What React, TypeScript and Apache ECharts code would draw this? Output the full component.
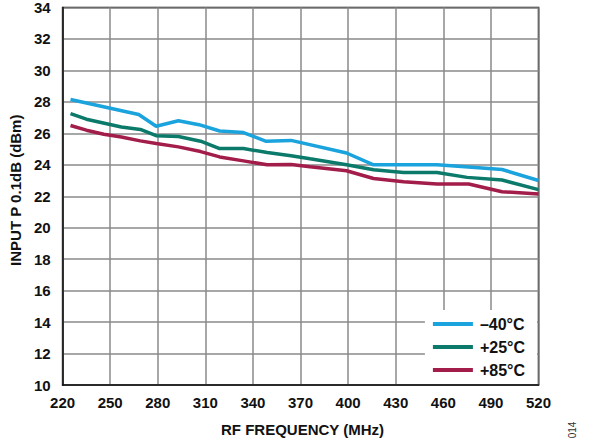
import React, { useEffect, useRef } from "react";
import * as echarts from "echarts";

const seriesNames = ["\u201340\u00B0C", "+25\u00B0C", "+85\u00B0C"];
const seriesColors = ["#1aa3dc", "#0b7a6a", "#a31d4a"];

const blueData: [number, number][] = [
  [225, 28.15], [268, 27.2], [279, 26.45], [293, 26.8], [306, 26.55], [319, 26.15],
  [334, 26.05], [348, 25.5], [364, 25.55], [399, 24.75], [416, 24.0], [456, 24.0],
  [478, 23.85], [497, 23.7], [520, 23.0],
];
const greenData: [number, number][] = [
  [225, 27.25], [235, 26.9], [257, 26.4], [269, 26.25], [279, 25.85], [293, 25.8],
  [307, 25.5], [319, 25.03], [334, 25.03], [349, 24.78], [364, 24.58], [376, 24.38],
  [399, 24.0], [416, 23.68], [435, 23.51], [456, 23.51], [475, 23.2], [497, 23.03],
  [520, 22.42],
];
const redData: [number, number][] = [
  [225, 26.5], [235, 26.2], [246, 25.94], [257, 25.77], [269, 25.52], [279, 25.35],
  [293, 25.14], [307, 24.84], [319, 24.5], [334, 24.25], [349, 24.0], [364, 24.02],
  [376, 23.87], [399, 23.62], [416, 23.13], [435, 22.92], [456, 22.78], [476, 22.78],
  [497, 22.29], [520, 22.15],
];

const xMin = 220, xMax = 520, xStep = 30;
const yMin = 10, yMax = 34, yStep = 2;

export default function App() {
  const ref = useRef<HTMLDivElement>(null);
  useEffect(() => {
    if (!ref.current) return;
    const chart = echarts.init(ref.current, undefined, { renderer: "svg" });
    const font = "'Liberation Sans', Arial, sans-serif";
    const datas = [blueData, greenData, redData];
    chart.setOption({
      animation: false,
      backgroundColor: "#fff",
      textStyle: { fontFamily: font },
      grid: {
        left: 62.5, right: 51.5, top: 6, bottom: 62,
        show: true, borderColor: "#111", borderWidth: 1.5, backgroundColor: "transparent",
      },
      xAxis: {
        type: "value", min: xMin, max: xMax, interval: xStep,
        name: "RF FREQUENCY (MHz)", nameLocation: "middle", nameGap: 37,
        nameTextStyle: { fontSize: 15, fontWeight: "bold", color: "#111", fontFamily: font, padding: [0, 0, 0, 4] },
        axisLine: { show: true, lineStyle: { color: "#111", width: 1.5 } },
        axisTick: { show: false },
        axisLabel: { fontSize: 15, fontWeight: "bold", color: "#111", margin: 10, fontFamily: font },
        splitLine: { show: true, lineStyle: { color: "#8a8a8a", width: 1.5 } },
      },
      yAxis: {
        type: "value", min: yMin, max: yMax, interval: yStep,
        name: "INPUT P 0.1dB (dBm)", nameLocation: "middle", nameGap: 35,
        nameTextStyle: { fontSize: 15, fontWeight: "bold", color: "#111", fontFamily: font, padding: [0, 0, 0, 12] },
        axisLine: { show: true, lineStyle: { color: "#111", width: 1.5 } },
        axisTick: { show: false },
        axisLabel: { fontSize: 15, fontWeight: "bold", color: "#111", margin: 12, fontFamily: font },
        splitLine: { show: true, lineStyle: { color: "#8a8a8a", width: 1.5 } },
      },
      legend: {
        orient: "vertical",
        right: 53, bottom: 63,
        backgroundColor: "#fff",
        padding: [6, 12, 6, 8],
        itemGap: 7,
        itemWidth: 40, itemHeight: 4,
        icon: "rect",
        textStyle: { fontSize: 16, fontWeight: "bold", color: "#111", fontFamily: font, lineHeight: 15, padding: [0, 0, 0, 2] },
        data: seriesNames,
      },
      series: datas.map((d, i) => ({
        type: "line",
        name: seriesNames[i],
        data: d,
        showSymbol: false,
        symbol: "none",
        lineStyle: { color: seriesColors[i], width: 3.5 },
        itemStyle: { color: seriesColors[i] },
      })),
      graphic: [
        {
          type: "text", x: 572, y: 430, rotation: Math.PI / 2,
          style: { text: "014", fontSize: 10, fill: "#333", fontFamily: font, align: "center", verticalAlign: "middle" },
        },
      ],
    });
    return () => chart.dispose();
  }, []);
  return <div ref={ref} style={{ position: "absolute", left: 0, top: 0, width: 590, height: 447 }} />;
}
